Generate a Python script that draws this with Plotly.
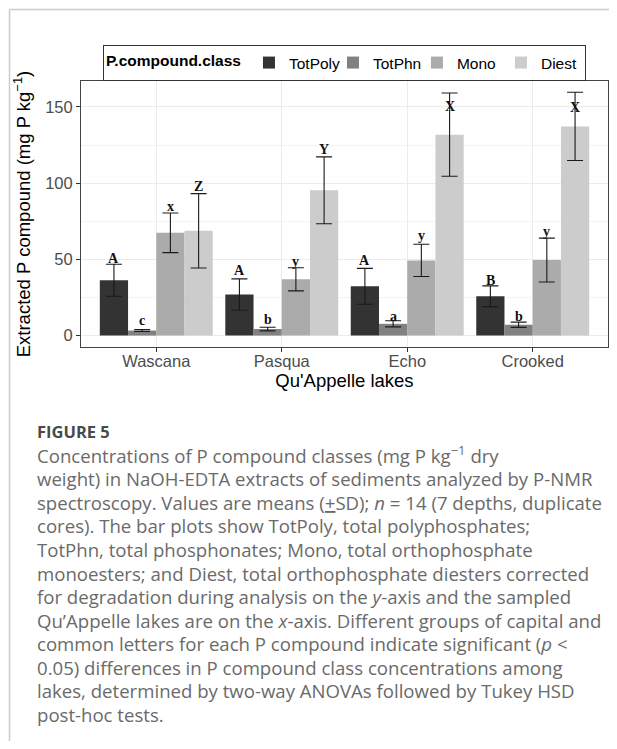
import plotly.graph_objects as go

# ---------------- data ----------------
lakes = ["Wascana", "Pasqua", "Echo", "Crooked"]
classes = ["TotPoly", "TotPhn", "Mono", "Diest"]
colors = ["#333333", "#818181", "#ababab", "#cccccc"]

means = {
    "TotPoly": [36.3, 26.9, 32.3, 25.8],
    "TotPhn": [3.3, 4.3, 7.7, 7.1],
    "Mono": [67.4, 36.9, 49.3, 49.5],
    "Diest": [68.7, 95.3, 131.8, 137.2],
}
sds = {
    "TotPoly": [10.5, 10.3, 11.8, 6.8],
    "TotPhn": [0.6, 1.2, 2.0, 1.7],
    "Mono": [13.0, 7.6, 10.6, 14.4],
    "Diest": [24.4, 21.9, 27.3, 22.4],
}
letters = {
    "TotPoly": ["A", "A", "A", "B"],
    "TotPhn": ["c", "b", "a", "b"],
    "Mono": ["x", "y", "y", "y"],
    "Diest": ["Z", "Y", "X", "X"],
}
letter_y = {
    "TotPoly": [50.3, 42.8, 49.4, 36.3],
    "TotPhn": [10.0, 10.5, 12.7, 12.7],
    "Mono": [84.8, 48.7, 65.6, 68.0],
    "Diest": [97.9, 122.0, 150.0, 149.3],
}
y_ticks = [0, 50, 100, 150]

caption_title = "FIGURE 5"
caption_lines = [
    "Concentrations of P compound classes (mg P kg<sup>−1</sup> dry",
    "weight) in NaOH-EDTA extracts of sediments analyzed by P-NMR",
    "spectroscopy. Values are means (<u>+</u>SD); <i>n</i> = 14 (7 depths, duplicate",
    "cores). The bar plots show TotPoly, total polyphosphates;",
    "TotPhn, total phosphonates; Mono, total orthophosphate",
    "monoesters; and Diest, total orthophosphate diesters corrected",
    "for degradation during analysis on the <i>y</i>-axis and the sampled",
    "Qu’Appelle lakes are on the <i>x</i>-axis. Different groups of capital and",
    "common letters for each P compound indicate significant (<i>p</i> <",
    "0.05) differences in P compound class concentrations among",
    "lakes, determined by two-way ANOVAs followed by Tukey HSD",
    "post-hoc tests.",
]

# ---------------- layout geometry ----------------
# page body has an 8px margin; figure sized to avoid scrollbars
OFF = 8
W, H = 617 - 2 * OFF, 749 - 2 * OFF
L, T = 81 - OFF, 81 - OFF
R = W - (608 - OFF)
B = H - (347 - OFF)
plot_w = W - L - R
plot_h = H - T - B


def px_to_paper_x(px):
    # px is in reference-image coordinates
    return (px - OFF - L) / plot_w


def px_to_paper_y(py):
    return (H - B - (py - OFF)) / plot_h


fig = go.Figure()

bargap = 0.1
nb = len(classes)
bw = (1 - bargap) / nb

for k, (cls, col) in enumerate(zip(classes, colors)):
    fig.add_trace(go.Bar(
        name=cls,
        x=lakes,
        y=means[cls],
        marker=dict(color=col, line=dict(width=0)),
        error_y=dict(type="data", array=sds[cls], visible=True,
                     color="#1a1a1a", thickness=1.1, width=8),
    ))
    offset = -0.5 + bargap / 2 + bw * (k + 0.5)
    for i, lake in enumerate(lakes):
        fig.add_annotation(
            x=i + offset, y=letter_y[cls][i], xref="x", yref="y",
            text=letters[cls][i], showarrow=False,
            font=dict(family="Liberation Serif", size=14, color="#111111", weight="bold"),
        )

fig.update_layout(
    width=W, height=H,
    margin=dict(l=L, r=R, t=T, b=B, pad=0),
    paper_bgcolor="white", plot_bgcolor="white",
    barmode="group", bargap=bargap, bargroupgap=0,
    font=dict(family="Liberation Sans", color="black"),
    legend=dict(
        orientation="h", x=0.5, xanchor="center",
        y=px_to_paper_y(45), yanchor="top",
        bordercolor="#333333", borderwidth=1,
        font=dict(size=15.5, color="black"),
        title=dict(text="<b>P.compound.class</b>", font=dict(size=15.5)),
        itemwidth=30, tracegroupgap=0,
        entrywidth=39, entrywidthmode="pixels",
    ),
    xaxis=dict(
        range=[-0.6, 3.6],
        showgrid=True, gridcolor="#ebebeb", gridwidth=1,
        showline=True, mirror=True, linecolor="#444444", linewidth=1,
        ticks="outside", ticklen=4, tickcolor="#333333",
        ticklabelstandoff=-5,
        tickfont=dict(size=16.5, color="#4d4d4d"),
        title=dict(text="Qu'Appelle lakes", font=dict(size=18.5, color="black"), standoff=1),
    ),
    yaxis=dict(
        range=[-7.5, 167],
        tickvals=y_ticks,
        showgrid=True, gridcolor="#ebebeb", gridwidth=1,
        minor=dict(tickvals=[25, 75, 125], showgrid=True, gridcolor="#f3f3f3", gridwidth=0.6, ticks=""),
        zeroline=False,
        showline=True, mirror=True, linecolor="#444444", linewidth=1,
        ticks="outside", ticklen=4, tickcolor="#333333",
        tickfont=dict(size=16.5, color="#4d4d4d"),
        title=dict(text="Extracted P compound (mg P kg<sup>−1</sup>)",
                   font=dict(size=18.5, color="black"), standoff=9),
    ),
)

# frame lines (page border of the figure panel)
fig.add_shape(type="line", xref="paper", yref="paper",
              x0=px_to_paper_x(9.5), x1=px_to_paper_x(617), y0=px_to_paper_y(9.5), y1=px_to_paper_y(9.5),
              line=dict(color="#cccccc", width=1.5))
fig.add_shape(type="line", xref="paper", yref="paper",
              x0=px_to_paper_x(9.5), x1=px_to_paper_x(9.5), y0=px_to_paper_y(9.5), y1=px_to_paper_y(749),
              line=dict(color="#cccccc", width=1.5))

# caption
cap_x = px_to_paper_x(35)
fig.add_annotation(x=cap_x, y=px_to_paper_y(431.5), xref="paper", yref="paper",
                   xanchor="left", yanchor="middle", showarrow=False,
                   text="<b>" + caption_title + "</b>",
                   font=dict(family="Open Sans", size=16.5, color="#4a4a4a"))
y0 = 455.0
dy = 23.6
for j, line in enumerate(caption_lines):
    fig.add_annotation(x=cap_x, y=px_to_paper_y(y0 + j * dy), xref="paper", yref="paper",
                       xanchor="left", yanchor="middle", showarrow=False,
                       text=line,
                       font=dict(family="Open Sans", size=18.6, color="#6a6a6a"))

fig.write_html("out.html")
